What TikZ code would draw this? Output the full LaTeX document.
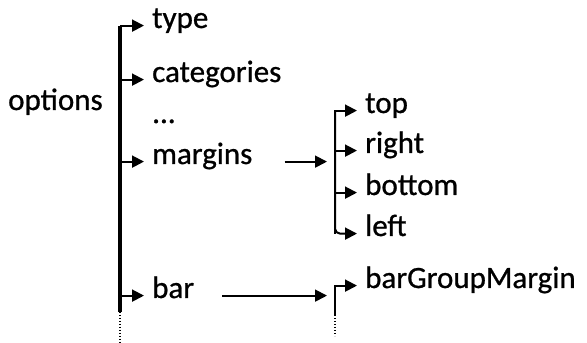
\documentclass[tikz,border=0pt]{standalone}
\usepackage{fontspec}
\setmainfont[FakeBold=0.8]{Carlito}
\usetikzlibrary{arrows.meta}
\begin{document}
\begin{tikzpicture}[x=1pt,y=1pt,
  font=\fontsize{31}{36}\selectfont,
  lbl/.style={anchor=base west,inner xsep=8pt,inner ysep=0pt},
  arr/.style={line width=2pt,-{Triangle[length=12pt,width=12pt]}},
  conn/.style={line width=1.8pt,-{Triangle[length=12pt,width=12pt]},shorten >=8pt},
  brk/.style={line width=3.2pt},
  dots/.style={line width=2.2pt,dash pattern=on 1.4pt off 1.6pt}]
\useasboundingbox (0,0) rectangle (587,343);
% labels
\node[anchor=base west,inner sep=0pt] (options) at (8,233) {options};
\node[lbl] (type) at (144,315) {type};
\node[lbl] (categories) at (144,261) {categories};
\node[lbl] (ellipsis) at (144,220) {...};
\node[lbl] (margins) at (144,179) {margins};
\node[lbl] (bar) at (144,45) {bar};
\node[lbl] (top) at (357,230) {top};
\node[lbl] (right) at (357,190) {right};
\node[lbl] (bottom) at (357,148) {bottom};
\node[lbl] (left) at (357,107) {left};
\node[lbl] (bgm) at (357,55) {barGroupMargin};
% bracket coordinates
\coordinate (mainbot) at (120,31);
\coordinate (mainend) at (120,0);
\coordinate (rb) at (335,0);
\coordinate (bbot) at (335,28);
\coordinate (bend) at (335,7);
% main bracket
\draw[brk] (mainbot) -- (mainbot |- type.mid west);
\draw[arr] (mainbot |- type.mid west) -- (type.mid west);
\draw[dots] (mainbot) -- (mainend);
\draw[arr] (mainbot |- categories.mid west) -- (categories.mid west);
\draw[arr] (mainbot |- margins.mid west) -- (margins.mid west);
\draw[arr] (mainbot |- bar.mid west) -- (bar.mid west);
% margins bracket
\draw[arr] (rb |- left.mid west) |- (top.mid west);
\draw[arr,rounded corners=5pt] (rb |- top.mid west) |- (left.mid west);
\draw[arr] (rb |- right.mid west) -- (right.mid west);
\draw[arr] (rb |- bottom.mid west) -- (bottom.mid west);
% bar bracket
\draw[arr] (bbot) |- (bgm.mid west);
\draw[dots] (bbot) -- (bend);
% connectors
\coordinate (mstart) at ([xshift=24pt]margins.mid east);
\coordinate (bstart) at ([xshift=20pt]bar.mid east);
\draw[conn] (mstart) -- (mstart -| rb);
\draw[conn] (bstart) -- (bstart -| rb);
\end{tikzpicture}
\end{document}
